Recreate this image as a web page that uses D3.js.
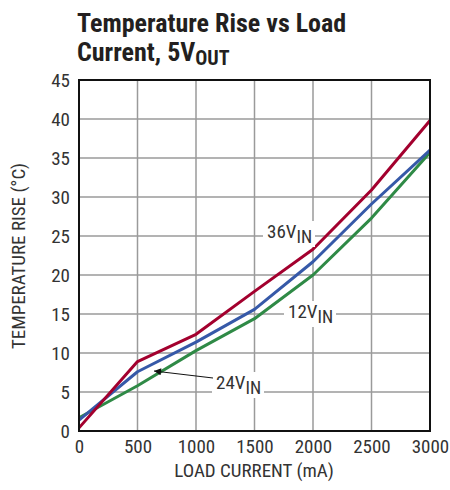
<!DOCTYPE html>
<html><head><meta charset="utf-8">
<script src="https://cdn.jsdelivr.net/npm/d3@7/dist/d3.min.js"></script>
<style>
body{margin:0;background:#fff;}
svg text{font-family:"Liberation Sans Narrow","Roboto Condensed","Arial Narrow",sans-serif;}
</style>
</head><body>
<svg id="c" width="450" height="490"></svg>
<script>
const loadCurrent = [0, 500, 1000, 1500, 2000, 2500, 3000];
const rise36 = [0.4, 8.9, 12.4, 17.9, 23.3, 30.9, 39.8];
const rise24 = [1.4, 7.6, 11.4, 15.6, 21.7, 29.1, 36.0];
const rise12 = [1.7, 5.8, 10.3, 14.4, 20.0, 27.3, 35.7];
const xTicks = [0, 500, 1000, 1500, 2000, 2500, 3000];
const yTicks = [0, 5, 10, 15, 20, 25, 30, 35, 40, 45];
const seriesNames = ["36V", "24V", "12V"];
const seriesColors = ["#a3002e", "#3659a8", "#2f8a46"];

const svg = d3.select("#c");
const L = 79, R = 430, T = 80, B = 431;
const x = d3.scaleLinear().domain([0, 3000]).range([L, R]);
const y = d3.scaleLinear().domain([0, 45]).range([B, T]);

// title
const t = svg.append("g").attr("font-weight", "bold").attr("fill", "#231f20").attr("font-size", 26);
t.append("text").attr("x", 77).attr("y", 32).text("Temperature Rise vs Load");
const t2 = t.append("text").attr("x", 77).attr("y", 61);
t2.append("tspan").text("Current, 5V");
t2.append("tspan").attr("font-size", 20).attr("dy", 4).text("OUT");

// grid
const g = svg.append("g");
g.selectAll(".vx").data(xTicks.slice(1, -1)).join("line")
  .attr("x1", d => x(d)).attr("x2", d => x(d)).attr("y1", T).attr("y2", B)
  .attr("stroke", "#9a9a9a").attr("stroke-width", 1.5);
g.selectAll(".hy").data(yTicks.slice(1, -1)).join("line")
  .attr("y1", d => y(d)).attr("y2", d => y(d)).attr("x1", L).attr("x2", R)
  .attr("stroke", "#9a9a9a").attr("stroke-width", 1.5);

// axes labels via d3 axes
const xAxis = svg.append("g").attr("transform", `translate(0,${B})`)
  .call(d3.axisBottom(x).tickValues(xTicks).tickFormat(d3.format("d")).tickSize(0).tickPadding(9));
xAxis.select(".domain").remove();
xAxis.selectAll("text").attr("font-size", 19).attr("fill", "#333");
const yAxis = svg.append("g").attr("transform", `translate(${L},0)`)
  .call(d3.axisLeft(y).tickValues(yTicks).tickFormat(d3.format("d")).tickSize(0).tickPadding(9));
yAxis.select(".domain").remove();
yAxis.selectAll("text").attr("font-size", 19).attr("fill", "#333");

svg.append("text").attr("x", 254).attr("y", 477).attr("text-anchor", "middle")
  .attr("font-size", 19).attr("fill", "#333").text("LOAD CURRENT (mA)");
svg.append("text").attr("transform", "translate(25,256) rotate(-90)").attr("text-anchor", "middle")
  .attr("font-size", 19).attr("fill", "#333").text("TEMPERATURE RISE (°C)");

// labels with white background
function label(cx0, baseY, w, name) {
  svg.append("rect").attr("x", cx0 - 4).attr("y", baseY - 17).attr("width", w).attr("height", 26).attr("fill", "#fff");
  const tx = svg.append("text").attr("x", cx0).attr("y", baseY).attr("font-size", 19).attr("fill", "#333");
  tx.append("tspan").text(name);
  tx.append("tspan").attr("dy", 5).attr("font-size", 18).text("IN");
}

// lines
const series = [rise36, rise24, rise12];
const line = d3.line().x((d, i) => x(loadCurrent[i])).y(d => y(d));
[2, 1, 0].forEach(k => {
  svg.append("path").datum(series[k]).attr("d", line).attr("fill", "none")
    .attr("stroke", seriesColors[k]).attr("stroke-width", 3).attr("stroke-linejoin", "round");
});

label(267, 238, 52, seriesNames[0]);
label(288, 318, 52, seriesNames[2]);
label(216, 389, 52, seriesNames[1]);

// arrow for 24V
svg.append("defs").append("marker").attr("id", "ah").attr("viewBox", "0 0 10 10")
  .attr("refX", 10).attr("refY", 5).attr("markerWidth", 14).attr("markerHeight", 7)
  .attr("markerUnits", "userSpaceOnUse").attr("orient", "auto")
  .append("path").attr("d", "M0,0 L10,5 L0,10 Z").attr("fill", "#111");
svg.append("line").attr("x1", 213).attr("y1", 378).attr("x2", 154).attr("y2", 371)
  .attr("stroke", "#111").attr("stroke-width", 1).attr("marker-end", "url(#ah)");

// frame
svg.append("rect").attr("x", L).attr("y", T).attr("width", R - L).attr("height", B - T)
  .attr("fill", "none").attr("stroke", "#111").attr("stroke-width", 2);
</script>
</body></html>
